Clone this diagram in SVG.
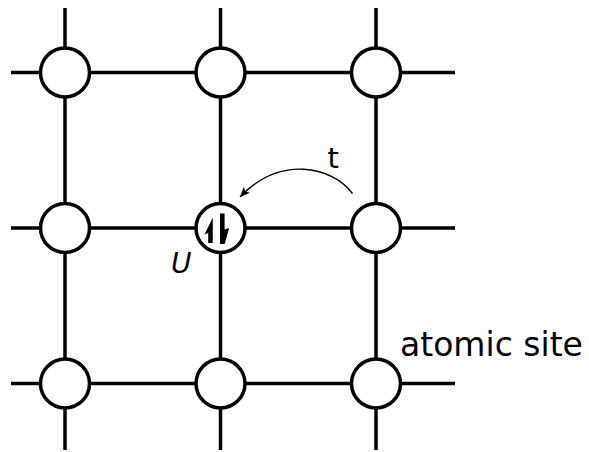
<svg xmlns="http://www.w3.org/2000/svg" width="589" height="452" viewBox="0 0 589 452">
<defs>
<style>
.ln{stroke:#000;stroke-width:3.5;fill:none}
.site{fill:#fff;stroke:#000;stroke-width:3.5}
.lbl{font-family:"DejaVu Sans",sans-serif;fill:#000}
</style>
<marker id="ah" markerWidth="12" markerHeight="10" refX="10" refY="5" orient="auto" markerUnits="userSpaceOnUse">
<path d="M0,0.8 L10,5 L0,9.2 L2.5,5 Z" fill="#000"/>
</marker>
</defs>
<rect width="589" height="452" fill="#fff"/>
<g id="connectors">
<line class="ln" x1="11" y1="72.5" x2="455" y2="72.5"/>
<line class="ln" x1="11" y1="228" x2="455" y2="228"/>
<line class="ln" x1="11" y1="383.5" x2="455" y2="383.5"/>
<line class="ln" x1="65" y1="8" x2="65" y2="450"/>
<line class="ln" x1="220.5" y1="8" x2="220.5" y2="450"/>
<line class="ln" x1="376" y1="8" x2="376" y2="450"/>
<path d="M352.5,193.5 C332,166 280,155 240,197" fill="none" stroke="#000" stroke-width="1.4" marker-end="url(#ah)"/>
</g>
<g id="site-0-0"><circle class="site" cx="65" cy="72.5" r="24.5"/></g>
<g id="site-1-0"><circle class="site" cx="220.5" cy="72.5" r="24.5"/></g>
<g id="site-2-0"><circle class="site" cx="376" cy="72.5" r="24.5"/></g>
<g id="site-0-1"><circle class="site" cx="65" cy="228" r="24.5"/></g>
<g id="site-1-1">
<circle class="site" cx="220.5" cy="228" r="24.5"/>
<path d="M212.8,217.5 L212.8,243 L208.2,243 L208.2,233 L204.5,234.5 Z" fill="#000"/>
<path d="M220,213.5 L224.6,213.5 L224.6,229.5 L229.2,228 L224.6,244 L220,244 Z" fill="#000"/>
</g>
<g id="site-2-1"><circle class="site" cx="376" cy="228" r="24.5"/></g>
<g id="site-0-2"><circle class="site" cx="65" cy="383.5" r="24.5"/></g>
<g id="site-1-2"><circle class="site" cx="220.5" cy="383.5" r="24.5"/></g>
<g id="site-2-2"><circle class="site" cx="376" cy="383.5" r="24.5"/></g>
<text class="lbl" x="327.5" y="168" font-size="29">t</text>
<text class="lbl" x="171" y="273" font-size="28" font-style="italic">U</text>
<text class="lbl" x="400" y="356" font-size="33">atomic site</text>
</svg>
